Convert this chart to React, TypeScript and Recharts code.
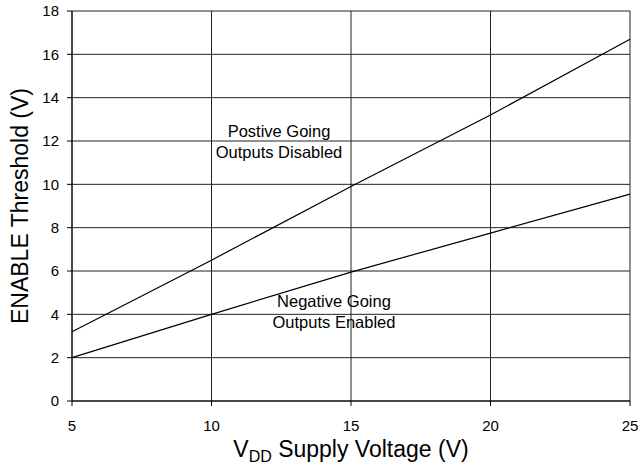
import React from 'react';
import {
  LineChart,
  Line,
  XAxis,
  YAxis,
  CartesianGrid,
  ReferenceDot,
} from 'recharts';

// supply voltage (V)
const vdd = [5, 10, 15, 20, 25];
// enable threshold, positive going (outputs disabled)
const positiveGoing = [3.2, 6.5, 9.9, 13.2, 16.7];
// enable threshold, negative going (outputs enabled)
const negativeGoing = [2.0, 4.0, 5.95, 7.75, 9.55];

const xTicks = [5, 10, 15, 20, 25];
const yTicks = [0, 2, 4, 6, 8, 10, 12, 14, 16, 18];

const data = vdd.map((v, i) => ({
  vdd: v,
  pos: positiveGoing[i],
  neg: negativeGoing[i],
}));

const FONT = 'Arial, "Liberation Sans", Helvetica, sans-serif';

function XTitle(props: any) {
  const vb = props.viewBox || {};
  const cx = vb.x + vb.width / 2;
  return (
    <text x={cx} y={457} textAnchor="middle" fontSize={23} fontFamily={FONT} fill="#000">
      <tspan>V</tspan>
      <tspan fontSize={16} dy={5}>DD</tspan>
      <tspan dy={-5}> Supply Voltage (V)</tspan>
    </text>
  );
}

function YTitle(props: any) {
  const vb = props.viewBox || {};
  const cy = vb.y + vb.height / 2;
  return (
    <text
      x={0}
      y={0}
      transform={`translate(28, ${cy}) rotate(-90)`}
      textAnchor="middle"
      fontSize={23}
      fontFamily={FONT}
      fill="#000"
    >
      ENABLE Threshold (V)
    </text>
  );
}

function note(lines: string[]) {
  return (props: any) => {
    const vb = props.viewBox || {};
    const cx = vb.cx ?? vb.x;
    const cy = vb.cy ?? vb.y;
    return (
      <text x={cx} y={cy} textAnchor="middle" fontSize={16.5} fontFamily={FONT} fill="#000">
        {lines.map((l, i) => (
          <tspan key={l} x={cx} dy={i === 0 ? -4.3 : 20.5}>
            {l}
          </tspan>
        ))}
      </text>
    );
  };
}

export default function App() {
  const tick = { fill: '#000', fontSize: 15, fontFamily: FONT };
  return (
    <div style={{ position: 'absolute', left: 0, top: 0, background: '#fff', width: 640, height: 467 }}>
      <LineChart
        width={640}
        height={467}
        data={data}
        margin={{ top: 11, right: 10, bottom: 0, left: 10 }}
      >
        <CartesianGrid stroke="#222" strokeWidth={1} />
        <XAxis
          dataKey="vdd"
          type="number"
          domain={[5, 25]}
          ticks={xTicks}
          height={66}
          tick={tick}
          tickSize={5}
          tickMargin={14}
          stroke="#000"
          label={<XTitle />}
        />
        <YAxis
          type="number"
          domain={[0, 18]}
          ticks={yTicks}
          width={62}
          tick={tick}
          tickSize={5}
          tickMargin={8}
          stroke="#000"
          label={<YTitle />}
        />
        <Line
          dataKey="pos"
          stroke="#000"
          strokeWidth={1.2}
          dot={false}
          isAnimationActive={false}
        />
        <Line
          dataKey="neg"
          stroke="#000"
          strokeWidth={1.2}
          dot={false}
          isAnimationActive={false}
        />
        <ReferenceDot
          x={12.42}
          y={11.97}
          r={0}
          stroke="none"
          fill="none"
          label={note(['Postive Going', 'Outputs Disabled'])}
        />
        <ReferenceDot
          x={14.39}
          y={4.13}
          r={0}
          stroke="none"
          fill="none"
          label={note(['Negative Going', 'Outputs Enabled'])}
        />
      </LineChart>
    </div>
  );
}
